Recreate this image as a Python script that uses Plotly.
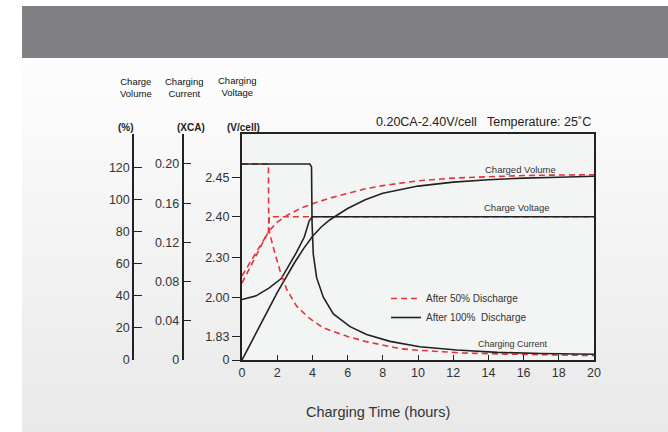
import numpy as np
import plotly.graph_objects as go

# ---------------- data ----------------
HOURS_TICKS = list(range(0, 21, 2))
VOL_TICKS = [0, 20, 40, 60, 80, 100, 120]
CUR_TICKS = [0, 0.04, 0.08, 0.12, 0.16, 0.20]
CUR_LABELS = ["0", "0.04", "0.08", "0.12", "0.16", "0.20"]
VOLT_TICKS = [0, 1.83, 2.00, 2.30, 2.40, 2.45]
VOLT_LABELS = ["0", "1.83", "2.00", "2.30", "2.40", "2.45"]
VOLT_POS = [0, 0.58, 1.57, 2.57, 3.58, 4.57]   # broken voltage scale

# after 100% discharge
vol100_h = [0, 1, 2, 3, 3.5, 4, 4.5, 5, 6, 7, 8, 10, 12, 14, 16, 18, 20]
vol100 = [0, 21, 42, 61, 69.5, 77, 83, 87.5, 94.5, 100, 104, 108.5, 111, 112.5, 113.5, 114, 114.6]
volt100_h = [0, 0.8, 1.55, 2.23, 3.07, 3.54, 3.82, 4.0, 20]
volt100 = [1.99, 2.01, 2.07, 2.14, 2.31, 2.35, 2.39, 2.40, 2.40]
cur100_h = [0, 3.85, 3.95, 3.98, 4.05, 4.24, 4.62, 5.19, 6.14, 7.08, 8.41, 10.1, 12.2, 14.5, 17, 20]
cur100 = [0.20, 0.20, 0.197, 0.14, 0.108, 0.084, 0.064, 0.047, 0.034, 0.026, 0.019,
          0.0135, 0.0102, 0.0078, 0.0066, 0.0058]

# after 50% discharge
vol50_h = [0, 0.5, 1.0, 1.5, 2.0, 2.6, 3.3, 4.0, 5.0, 6.0, 7.0, 8.0, 10, 12, 14, 16, 18, 20]
vol50 = [48, 58.5, 69, 80, 86, 90.5, 94.5, 97.5, 101, 104, 106.8, 108.8, 111.8, 113.5, 114.5,
         115.1, 115.4, 115.6]
volt50_h = [0, 0.4, 0.8, 1.2, 1.5, 1.55, 20]
volt50 = [2.16, 2.246, 2.311, 2.34, 2.362, 2.40, 2.40]
cur50_h = [0, 1.5, 1.52, 1.6, 1.87, 2.16, 2.54, 3.1, 3.8, 4.6, 5.2, 6.0, 7.0, 8.0, 9.0, 10,
           12.5, 15, 20]
cur50 = [0.2, 0.2, 0.135, 0.127, 0.109, 0.091, 0.072, 0.055, 0.043, 0.033, 0.029, 0.024,
         0.019, 0.015, 0.0115, 0.010, 0.0072, 0.006, 0.0045]


def vpos(v):
    return np.interp(v, VOLT_TICKS, VOLT_POS)


RED = "#e8323a"
BLK = "#222222"
FONT = "Liberation Sans, Arial, sans-serif"
NARROW = "Liberation Sans Narrow, Arial Narrow, Liberation Sans, sans-serif"

fig = go.Figure()
red = dict(color=RED, width=1.6, dash="6px,4px")
blk = dict(color=BLK, width=1.6)

fig.add_trace(go.Scatter(x=vol50_h, y=vol50, yaxis="y2", mode="lines", line=red,
                         name="After 50% Discharge", legendgroup="a", showlegend=True))
fig.add_trace(go.Scatter(x=volt50_h, y=vpos(volt50), yaxis="y", mode="lines", line=red,
                         legendgroup="a", showlegend=False))
fig.add_trace(go.Scatter(x=cur50_h, y=cur50, yaxis="y3", mode="lines", line=red,
                         legendgroup="a", showlegend=False))
fig.add_trace(go.Scatter(x=vol100_h, y=vol100, yaxis="y2", mode="lines", line=blk,
                         name="After 100%\u00a0 Discharge", legendgroup="b", showlegend=True))
fig.add_trace(go.Scatter(x=volt100_h, y=vpos(volt100), yaxis="y", mode="lines", line=blk,
                         legendgroup="b", showlegend=False))
fig.add_trace(go.Scatter(x=cur100_h, y=cur100, yaxis="y3", mode="lines", line=blk,
                         legendgroup="b", showlegend=False))

L, R, T, B = 100, 74, 134, 72
W, H = 668, 432
PW, PH = W - L - R, H - T - B


def px(x):
    return (x - L) / PW


def py(y):
    return (H - B - y) / PH


shapes = []
# banner
shapes.append(dict(type="rect", xref="paper", yref="paper", x0=px(22), x1=px(670),
                   y0=py(58), y1=py(6), fillcolor="#808084", line_width=0, layer="below"))
# background gradient
n = 30
for i in range(n):
    y0 = 58 + (434 - 58) * i / n
    y1 = 58 + (434 - 58) * (i + 1) / n
    c = int(round(253 - (253 - 233) * i / (n - 1)))
    shapes.append(dict(type="rect", xref="paper", yref="paper", x0=px(22), x1=px(670),
                       y0=py(y1 + 0.5), y1=py(y0), fillcolor=f"rgb({c},{c},{c})",
                       line_width=0, layer="below"))
# plot background
shapes.append(dict(type="rect", xref="x domain", yref="y domain", x0=0, x1=1, y0=0, y1=1,
                   fillcolor="#f3f4f4", line_width=0, layer="below"))

ann = []


def note(text, x, y, size, xanchor="center", bold=False, family=FONT, color="#333"):
    if bold:
        text = "<b>" + text + "</b>"
    ann.append(dict(text=text, x=px(x), y=py(y), xref="paper", yref="paper",
                    showarrow=False, xanchor=xanchor, yanchor="middle",
                    font=dict(size=size, family=family, color=color)))


note("Charge<br>Volume", 136, 88, 9.5, family=NARROW, color="#111")
note("Charging<br>Current", 184, 88, 9.5, family=NARROW, color="#111")
note("Charging<br>Voltage", 237, 86.5, 9.5, family=NARROW, color="#111")
note("(%)", 126, 128, 10, bold=True, color="#222")
note("(XCA)", 191, 128, 10, bold=True, color="#222")
note("(V/cell)", 243, 128, 10, bold=True, color="#222")
note("0.20CA-2.40V/cell   Temperature: 25\u02daC", 593, 122, 12.5, xanchor="right", color="#222")
note("Charged Volume", 520, 169, 9.5)
note("Charge Voltage", 517, 207.5, 9.5)
note("Charging Current", 513, 343.5, 9)
note("Charging Time (hours)", 378, 412, 14.5)

axis_common = dict(showgrid=False, zeroline=False, tickcolor=BLK, linecolor=BLK,
                   tickfont=dict(size=12.5, family=FONT, color="#333"))

fig.update_layout(
    width=W, height=H,
    margin=dict(l=L, r=R, t=T, b=B),
    paper_bgcolor="white", plot_bgcolor="rgba(0,0,0,0)",
    font=dict(family=FONT, color="#333"),
    shapes=shapes, annotations=ann,
    xaxis=dict(domain=[px(242), 1], range=[0, 20], tickvals=HOURS_TICKS, ticks="inside",
               ticklen=5, showline=True, mirror=True, linewidth=2, **axis_common),
    yaxis=dict(range=[0, 5.65], tickvals=VOLT_POS, ticktext=VOLT_LABELS, ticks="outside",
               ticklen=8, showline=True, mirror=True, linewidth=2, **axis_common),
    yaxis2=dict(overlaying="y", anchor="free", position=px(133), side="left",
                range=[0, 141], tickvals=VOL_TICKS + [140.9],
                ticktext=[str(v) for v in VOL_TICKS] + [""], ticks="inside", ticklen=8,
                showline=True, linewidth=1.5, **axis_common),
    yaxis3=dict(overlaying="y", anchor="free", position=px(182.5), side="left",
                range=[0, 0.2306], tickvals=CUR_TICKS + [0.2305],
                ticktext=CUR_LABELS + [""], ticks="inside", ticklen=8,
                showline=True, linewidth=1.5, **axis_common),
    legend=dict(x=px(386), y=py(284), xanchor="left", yanchor="top",
                bgcolor="rgba(0,0,0,0)", font=dict(size=10, family=FONT, color="#333"),
                tracegroupgap=0, itemwidth=30),
    showlegend=True,
)

fig.write_html("out.html", config={"displayModeBar": False},
               post_script="document.body.style.margin='0';document.body.style.overflow='hidden';")
